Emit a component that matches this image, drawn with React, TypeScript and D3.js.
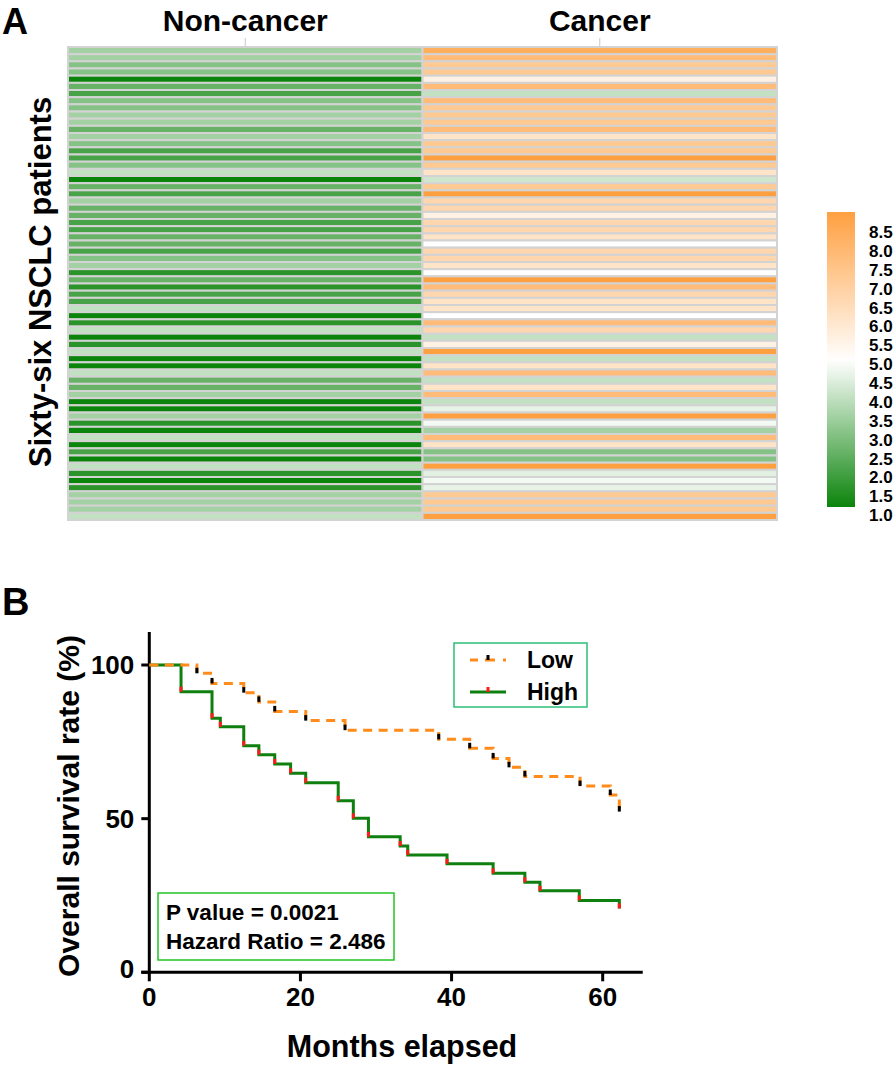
import React from "react";
import * as d3 from "d3";

// ---------- Panel A data ----------
const columns = ["Non-cancer", "Cancer"];
const nonCancer = [
  3.5, 3.5, 3.0, 3.0, 1.0, 2.5, 2.0, 3.0, 3.0, 3.5, 3.5, 2.5, 3.5, 3.0, 2.0, 2.0, 3.0, 4.0, 1.0, 2.5, 2.0, 3.5,
  2.5, 2.5, 2.0, 2.0, 2.5, 2.5, 2.0, 3.0, 3.5, 1.5, 2.5, 1.5, 2.0, 2.0, 4.0, 1.0, 1.5, 4.0, 1.0, 1.5, 4.0, 1.0,
  1.0, 4.0, 2.5, 2.5, 3.5, 1.0, 1.0, 3.5, 1.5, 1.0, 4.0, 1.0, 2.0, 1.0, 4.0, 1.5, 1.0, 1.5, 3.5, 3.5, 3.5, 4.0,
];
const cancer = [
  8.0, 7.5, 7.0, 7.0, 5.5, 7.5, 4.0, 7.5, 7.0, 7.0, 7.0, 7.5, 6.0, 7.0, 7.0, 8.5, 7.0, 6.0, 4.2, 7.0, 8.5, 6.5,
  6.5, 5.5, 6.5, 6.5, 6.0, 5.0, 6.5, 6.5, 6.0, 5.0, 8.5, 7.5, 6.5, 6.0, 6.0, 5.0, 7.5, 6.5, 4.0, 5.5, 8.5, 4.0,
  6.0, 7.5, 4.0, 6.0, 7.5, 4.0, 4.6, 8.5, 4.8, 3.5, 7.5, 6.0, 3.0, 3.0, 8.5, 4.5, 4.8, 4.6, 7.0, 7.0, 7.0, 8.5,
];
const legendTicks = [8.5, 8.0, 7.5, 7.0, 6.5, 6.0, 5.5, 5.0, 4.5, 4.0, 3.5, 3.0, 2.5, 2.0, 1.5, 1.0];

// ---------- Panel B data ----------
const lowTimes = [0, 6.3, 8.3, 12.5, 14.5, 16.6, 20.7, 25.9, 38.3, 42.4, 45.5, 47.6, 49.7, 57.0, 61.0, 62.2];
const lowSurv = [100, 97.3, 94.0, 91.0, 88.0, 84.9, 81.9, 78.8, 75.8, 72.9, 69.6, 66.7, 63.7, 60.6, 57.7, 52.3];
const highTimes = [0, 4.2, 8.3, 9.4, 12.5, 14.5, 16.6, 18.7, 20.7, 25.0, 27.0, 29.0, 33.2, 34.2, 39.4, 45.5, 49.7, 51.7, 56.9, 62.2];
const highSurv = [100, 91.3, 82.7, 79.9, 73.7, 70.8, 67.8, 64.8, 61.7, 55.8, 50.1, 44.1, 41.1, 38.2, 35.3, 32.2, 29.3, 26.5, 23.4, 20.8];
const xTicks = [0, 20, 40, 60];
const yTicks = [0, 50, 100];

const FONT = "'Liberation Sans', Arial, Helvetica, sans-serif";
const ORANGE = "#ff8c1a";
const GREEN = "#0f800f";

export default function App() {
  // Heatmap scales
  const rows = d3.range(nonCancer.length);
  const yBand = d3.scaleBand<number>().domain(rows).range([47, 520]);
  const xBand = d3.scaleBand<string>().domain(columns).range([68, 777]);
  const color = d3
    .scaleLinear<string>()
    .domain([1, 5, 8.5])
    .range(["#0b840b", "#ffffff", "#ffa040"])
    .clamp(true);
  const values: Record<string, number[]> = { "Non-cancer": nonCancer, Cancer: cancer };

  // Color legend
  const barTop = 212, barBottom = 507;
  const barScale = d3.scaleLinear().domain([8.5, 5, 1]).range([barTop, 361, barBottom]);
  const labelScale = d3.scaleLinear().domain([8.5, 1]).range([232, 515]);
  const stops = d3.range(0, 1.0001, 0.05).map((t) => ({
    offset: t,
    c: color(barScale.invert(barTop + t * (barBottom - barTop))),
  }));

  // KM scales
  const x = d3.scaleLinear().domain([0, 60]).range([149.3, 602.7]);
  const y = d3.scaleLinear().domain([0, 100]).range([972.3, 665]);
  const xEnd = x(65.3);
  const yTop = y(110.7);
  const step = d3
    .line<[number, number]>()
    .x((d) => x(d[0]))
    .y((d) => y(d[1]))
    .curve(d3.curveStepAfter);
  const lowPts = lowTimes.map((t, i) => [t, lowSurv[i]] as [number, number]);
  const highPts = highTimes.map((t, i) => [t, highSurv[i]] as [number, number]);

  return (
    <svg
      width={896}
      height={1065}
      style={{ position: "absolute", left: 0, top: 0, background: "#fff" }}
      fontFamily={FONT}
      fontWeight="bold"
    >
      <defs>
        <linearGradient id="legGrad" x1="0" y1="0" x2="0" y2="1">
          {stops.map((s, i) => (
            <stop key={i} offset={s.offset} stopColor={s.c} />
          ))}
        </linearGradient>
      </defs>

      {/* Panel A */}
      <text x={2} y={34} fontSize={36}>A</text>
      {columns.map((c) => (
        <g key={c}>
          <text x={xBand(c)! + xBand.bandwidth() / 2} y={31} fontSize={30} textAnchor="middle">
            {c}
          </text>
          <line
            x1={xBand(c)! + xBand.bandwidth() / 2}
            x2={xBand(c)! + xBand.bandwidth() / 2}
            y1={38}
            y2={46}
            stroke="#c8c8c8"
            strokeWidth={1}
          />
        </g>
      ))}
      <text transform={`translate(51,282) rotate(-90)`} fontSize={31} textAnchor="middle">
        Sixty-six NSCLC patients
      </text>
      <rect x={67} y={46} width={711} height={475} fill="#d3d3d3" />
      {columns.map((c) =>
        rows.map((r) => (
          <rect
            key={c + r}
            x={xBand(c)!}
            y={yBand(r)!}
            width={xBand.bandwidth()}
            height={yBand.bandwidth()}
            fill={color(values[c][r])}
            stroke="#d3d3d3"
            strokeWidth={2}
          />
        ))
      )}

      {/* Color legend */}
      <rect x={827} y={barTop} width={28} height={barBottom - barTop} fill="url(#legGrad)" />
      {legendTicks.map((v) => (
        <text key={v} x={869} y={labelScale(v)} dy="0.36em" fontSize={17}>
          {v.toFixed(1)}
        </text>
      ))}

      {/* Panel B */}
      <text x={2} y={615} fontSize={38}>B</text>

      {/* axes */}
      <line x1={x(0)} x2={x(0)} y1={yTop} y2={y(0) + 1.5} stroke="#000" strokeWidth={3} />
      <line x1={x(0) - 8} x2={xEnd} y1={y(0)} y2={y(0)} stroke="#000" strokeWidth={3} />
      {yTicks.map((t) => (
        <g key={t}>
          <line x1={x(0) - 8} x2={x(0)} y1={y(t)} y2={y(t)} stroke="#000" strokeWidth={3} />
          {t !== 0 && (
            <text x={x(0) - 15} y={y(t)} dy="0.36em" fontSize={26} textAnchor="end">
              {t}
            </text>
          )}
        </g>
      ))}
      <text x={x(0) - 15} y={y(0) - 4} dy="0.36em" fontSize={26} textAnchor="end">0</text>
      {xTicks.map((t) => (
        <g key={t}>
          <line x1={x(t)} x2={x(t)} y1={y(0)} y2={y(0) + 9} stroke="#000" strokeWidth={3} />
          <text x={x(t)} y={1006} fontSize={26} textAnchor="middle">
            {t}
          </text>
        </g>
      ))}
      <text x={402} y={1057} fontSize={30.5} textAnchor="middle">Months elapsed</text>
      <text transform={`translate(79,806) rotate(-90)`} fontSize={30} textAnchor="middle">
        Overall survival rate (%)
      </text>

      {/* curves */}
      <path d={step(highPts)!} fill="none" stroke={GREEN} strokeWidth={3} />
      <path d={step(lowPts)!} fill="none" stroke={ORANGE} strokeWidth={3} strokeDasharray="9,6.5" />
      {highPts.slice(1).map((p, i) => (
        <rect key={"h" + i} x={x(p[0]) - 1.5} y={y(p[1]) - 5} width={3} height={5} fill="#ff1a1a" />
      ))}
      {lowPts.slice(1).map((p, i) => (
        <rect key={"l" + i} x={x(p[0]) - 1.5} y={y(p[1]) - 5.5} width={3} height={5.5} fill="#000" />
      ))}

      {/* legend */}
      <rect x={454} y={643} width={133} height={64} fill="#fff" stroke="#2dbf78" strokeWidth={1.5} />
      <line x1={470} x2={506} y1={660} y2={660} stroke={ORANGE} strokeWidth={3} strokeDasharray="8,7,10,8,3" />
      <rect x={486.5} y={655} width={3} height={5} fill="#000" />
      <text x={527} y={668} fontSize={23}>Low</text>
      <line x1={470} x2={506} y1={692} y2={692} stroke={GREEN} strokeWidth={3} />
      <rect x={486.5} y={687} width={3} height={5} fill="#ff1a1a" />
      <text x={527} y={700} fontSize={23}>High</text>

      {/* stats box */}
      <rect x={158} y={893} width={236} height={67} fill="#fff" stroke="#22c422" strokeWidth={1.5} />
      <text x={166} y={920} fontSize={22.5}>P value = 0.0021</text>
      <text x={166} y={949} fontSize={22.5}>Hazard Ratio = 2.486</text>
    </svg>
  );
}
